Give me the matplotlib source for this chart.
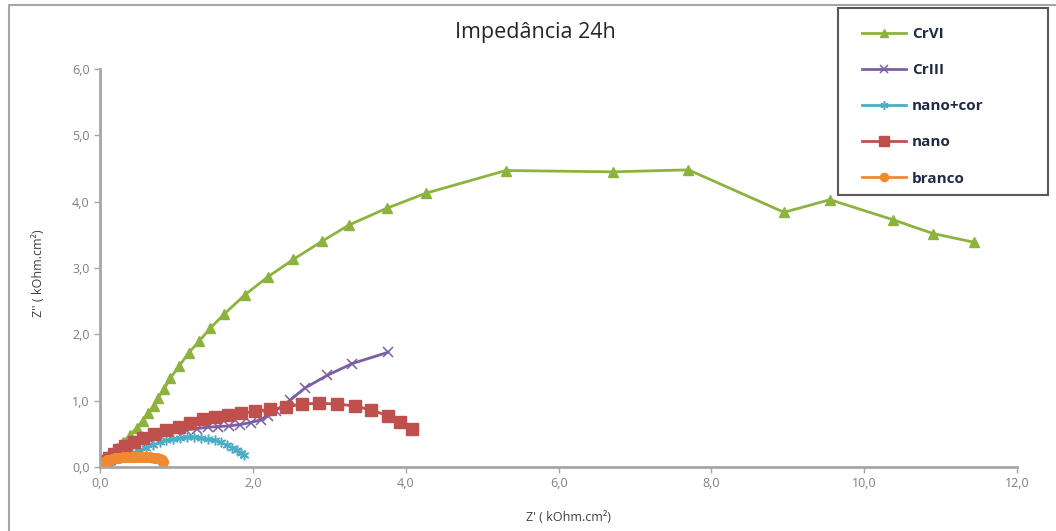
import matplotlib.pyplot as plt
from matplotlib.patches import Rectangle
from matplotlib.ticker import FuncFormatter

# Nyquist data (kOhm.cm2)
crvi_x = [0.0, 0.04, 0.09, 0.15, 0.22, 0.30, 0.39, 0.48, 0.56, 0.63, 0.70, 0.76, 0.84, 0.92,
          1.04, 1.16, 1.30, 1.44, 1.62, 1.90, 2.20, 2.53, 2.90, 3.26, 3.75, 4.27, 5.31, 6.71,
          7.70, 8.95, 9.55, 10.37, 10.90, 11.43]
crvi_y = [0.0, 0.05, 0.11, 0.19, 0.28, 0.38, 0.48, 0.59, 0.70, 0.81, 0.92, 1.04, 1.18, 1.34,
          1.53, 1.72, 1.90, 2.09, 2.30, 2.60, 2.87, 3.13, 3.40, 3.65, 3.90, 4.13, 4.47, 4.45,
          4.48, 3.84, 4.03, 3.73, 3.52, 3.39]

criii_x = [0.0, 0.03, 0.07, 0.12, 0.18, 0.25, 0.33, 0.42, 0.52, 0.63, 0.75, 0.87, 1.0, 1.13,
           1.27, 1.41, 1.55, 1.69, 1.83, 1.97, 2.1, 2.2, 2.3, 2.49, 2.68, 2.97, 3.30, 3.77]
criii_y = [0.0, 0.03, 0.07, 0.11, 0.16, 0.21, 0.27, 0.33, 0.39, 0.44, 0.48, 0.51, 0.54, 0.56,
           0.58, 0.60, 0.61, 0.62, 0.64, 0.67, 0.71, 0.77, 0.85, 1.01, 1.19, 1.38, 1.56, 1.73]

nanocor_x = [0.0, 0.03, 0.07, 0.12, 0.18, 0.25, 0.33, 0.42, 0.51, 0.60, 0.69, 0.78, 0.87,
             0.96, 1.05, 1.14, 1.23, 1.32, 1.41, 1.50, 1.58, 1.66, 1.73, 1.79, 1.84, 1.88]
nanocor_y = [0.0, 0.02, 0.05, 0.08, 0.11, 0.14, 0.17, 0.21, 0.25, 0.29, 0.33, 0.37, 0.40,
             0.42, 0.44, 0.45, 0.45, 0.44, 0.42, 0.40, 0.37, 0.33, 0.29, 0.25, 0.21, 0.18]

nano_x = [0.0, 0.03, 0.07, 0.12, 0.18, 0.25, 0.33, 0.44, 0.56, 0.71, 0.87, 1.03, 1.18, 1.35,
          1.51, 1.68, 1.85, 2.03, 2.22, 2.43, 2.64, 2.86, 3.10, 3.33, 3.55, 3.77, 3.93, 4.08]
nano_y = [0.0, 0.04, 0.09, 0.14, 0.20, 0.26, 0.32, 0.38, 0.44, 0.50, 0.56, 0.61, 0.66, 0.72,
          0.75, 0.78, 0.81, 0.84, 0.87, 0.90, 0.95, 0.96, 0.95, 0.92, 0.86, 0.77, 0.68, 0.58]

branco_x = [0.0, 0.01, 0.02, 0.04, 0.06, 0.09, 0.12, 0.16, 0.20, 0.25, 0.30, 0.35, 0.40, 0.45,
            0.50, 0.55, 0.60, 0.65, 0.70, 0.74, 0.78, 0.81, 0.83]
branco_y = [0.0, 0.02, 0.04, 0.06, 0.08, 0.10, 0.11, 0.12, 0.13, 0.14, 0.145, 0.15, 0.15, 0.15,
            0.15, 0.15, 0.15, 0.145, 0.14, 0.13, 0.12, 0.10, 0.08]

plt.rcParams['font.family'] = ['Open Sans', 'DejaVu Sans']

fig = plt.figure(figsize=(10.56, 5.31), dpi=100)
ax = fig.add_axes([0.0947, 0.1205, 0.8685, 0.7495])

ax.plot(crvi_x, crvi_y, color='#8DB33F', marker='^', markersize=7, lw=2, label='CrVI')
ax.plot(criii_x, criii_y, color='#7B5FA5', marker='x', markersize=7, mew=1.1, lw=2, label='CrIII')
ax.plot(nanocor_x, nanocor_y, color='#4BACC6', marker=(6, 2, 0), markersize=7, mew=1.1, lw=2,
        label='nano+cor')
ax.plot(nano_x, nano_y, color='#C0504D', marker='s', markersize=8, lw=2, label='nano')
ax.plot(branco_x, branco_y, color='#F08A30', marker='o', markersize=7, lw=2, label='branco')

ax.set_xlim(0, 12)
ax.set_ylim(0, 6)
ax.set_xticks([0, 2, 4, 6, 8, 10, 12])
ax.set_yticks([0, 1, 2, 3, 4, 5, 6])
fmt = FuncFormatter(lambda v, p: f'{v:.1f}'.replace('.', ','))
ax.xaxis.set_major_formatter(fmt)
ax.yaxis.set_major_formatter(fmt)
ax.tick_params(colors='#A6A6A6', labelcolor='#7F7F7F', labelsize=9, length=4, width=1)

for s in ['top', 'right']:
    ax.spines[s].set_visible(False)
for s in ['left', 'bottom']:
    ax.spines[s].set_color('#A6A6A6')
    ax.spines[s].set_linewidth(2)

fig.text(0.538, 0.025, "Z' ( kOhm.cm²)", ha='center', va='center', fontsize=9, color='#404040')
fig.text(0.036, 0.486, "Z'' ( kOhm.cm²)", ha='center', va='center', rotation=90,
         fontsize=9, color='#404040')
fig.text(0.507, 0.938, 'Impedância 24h', ha='center', va='center', fontsize=15.5, color='#262626')

# legend without its own frame, the box is drawn separately to get the wide right margin
leg = ax.legend(loc='upper left', bbox_to_anchor=(862 / 1056, 1 - 27 / 531),
                bbox_transform=fig.transFigure, frameon=False, fontsize=11,
                labelspacing=1.45, handlelength=2.9, handletextpad=0.35,
                borderpad=0, borderaxespad=0, markerscale=0.85)
for t in leg.get_texts():
    t.set_color('#1F2A44')
    t.set_fontweight('bold')
fig.patches.append(Rectangle((838 / 1056, 1 - 195 / 531), 210 / 1056, 187 / 531,
                             transform=fig.transFigure, fill=False, edgecolor='#595959', lw=1.5))

# chart area border (only top and left edges show in the picture)
fig.patches.append(Rectangle((9 / 1056, -0.1), 1.2, 1.1 - 5 / 531, transform=fig.transFigure,
                             fill=False, edgecolor='#A6A6A6', lw=1.5))

fig.savefig('out.png', dpi=100)
